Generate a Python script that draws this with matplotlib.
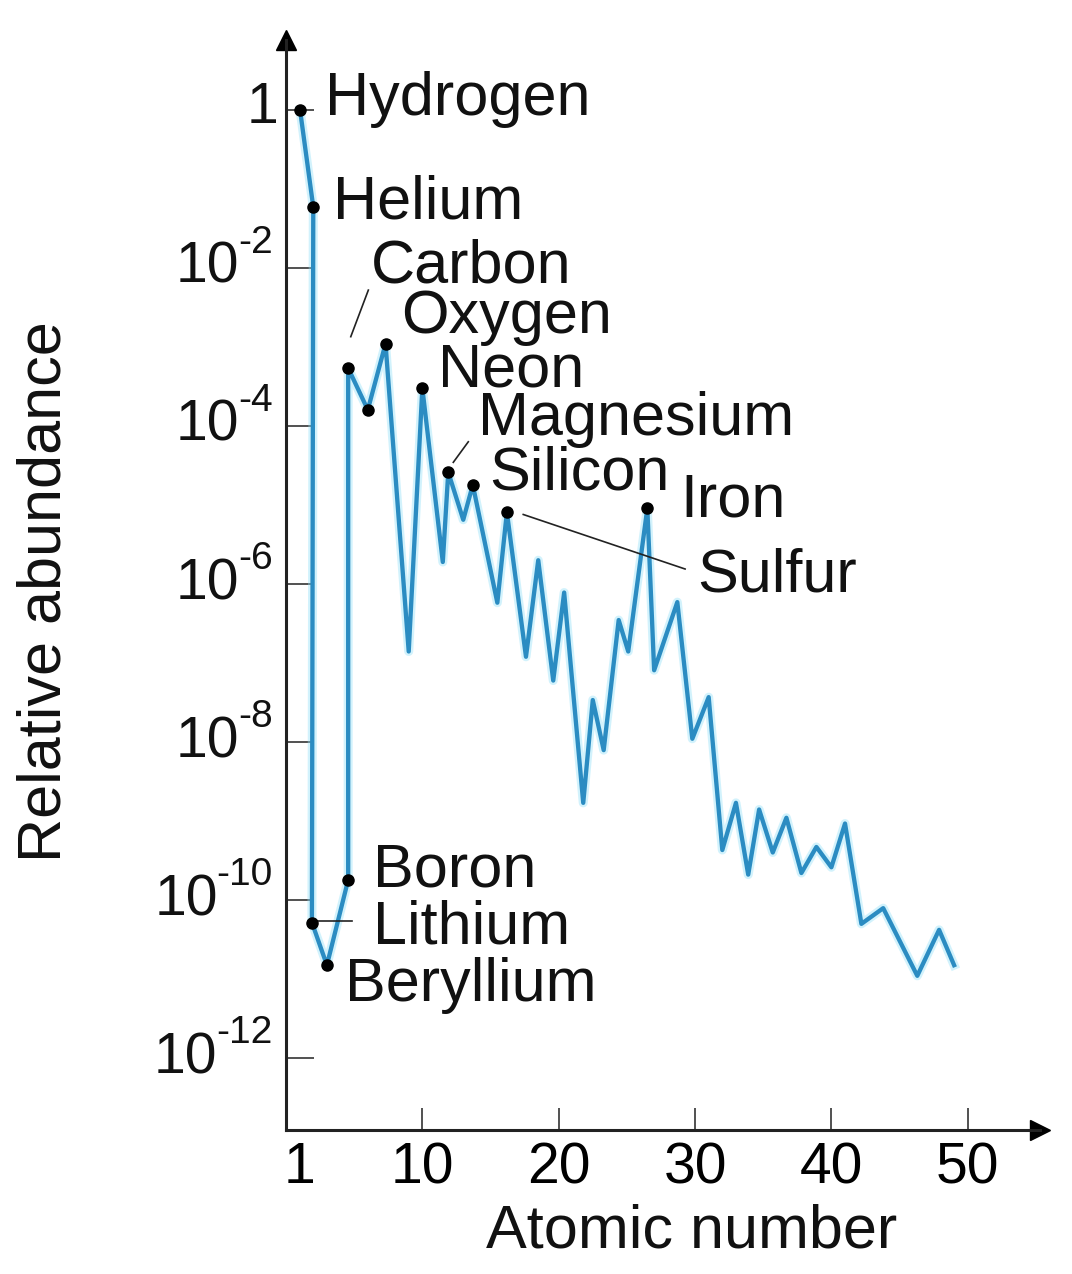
import matplotlib.pyplot as plt

plt.rcParams['font.family'] = ['Liberation Sans', 'DejaVu Sans']

# atomic number (as drawn) and relative abundance
atomic_number = [1.03, 2.0, 1.9, 3.0, 4.56, 4.56, 6.0, 7.3, 9.0, 10.0,
                 11.5, 11.9, 13.0, 13.7, 15.5, 16.2, 17.6, 18.5, 19.6, 20.4,
                 21.8, 22.5, 23.3, 24.4, 25.1, 26.5, 27.0, 28.7, 29.8, 31.0,
                 32.0, 33.0, 33.9, 34.7, 35.7, 36.7, 37.8, 38.9, 40.0, 41.0,
                 42.2, 43.8, 46.3, 47.9, 49.0]
abundance = [1.0, 5.9e-2, 5.2e-11, 1.5e-11, 1.8e-10, 5.4e-4, 1.6e-4, 1.1e-3, 1.4e-7, 3.0e-4,
             1.9e-6, 2.6e-5, 6.5e-6, 1.8e-5, 5.8e-7, 8.1e-6, 1.2e-7, 2.0e-6, 6.0e-8, 7.8e-7,
             1.7e-9, 3.4e-8, 7.9e-9, 3.5e-7, 1.4e-7, 9.1e-6, 8.1e-8, 5.9e-7, 1.1e-8, 3.7e-8,
             4.3e-10, 1.7e-9, 2.1e-10, 1.4e-9, 4.0e-10, 1.1e-9, 2.2e-10, 4.7e-10, 2.6e-10, 9.3e-10,
             5.0e-11, 7.9e-11, 1.1e-11, 4.2e-11, 1.5e-11]

# points marked with a dot
marked = [0, 1, 2, 3, 4, 5, 6, 7, 9, 11, 13, 15, 25]

element_names = ['Hydrogen', 'Helium', 'Carbon', 'Oxygen', 'Neon', 'Magnesium',
                 'Silicon', 'Iron', 'Sulfur', 'Boron', 'Lithium', 'Beryllium']
label_x = [2.85, 3.45, 6.25, 8.45, 11.12, 14.05, 14.93, 28.95, 30.17, 6.36, 6.36, 4.3]
label_y = [10**-0.068, 10**-1.37, 10**-2.19, 10**-2.82, 10**-3.50, 10**-4.11,
           10**-4.80, 10**-5.14, 10**-6.10, 10**-9.83, 10**-10.55, 10**-11.28]

x_ticks = [1, 10, 20, 30, 40, 50]
y_ticks = [1, 1e-2, 1e-4, 1e-6, 1e-8, 1e-10, 1e-12]
y_exponents = ['', '-2', '-4', '-6', '-8', '-10', '-12']

W, H = 1072, 1274
PT = 0.72  # points per pixel at dpi 100
fig = plt.figure(figsize=(W / 100, H / 100), dpi=100)
ax = fig.add_axes([286 / W, 1 - 1130 / H, (1040 - 286) / W, (1130 - 40) / H])

line_col = '#2b8cc2'
ax.plot(atomic_number, abundance, color='#8fe0f8', lw=6.5, alpha=0.4, solid_joinstyle='round')
ax.plot(atomic_number, abundance, color=line_col, lw=3.1, solid_joinstyle='round')
ax.plot([atomic_number[i] for i in marked], [abundance[i] for i in marked],
        'o', color='black', markersize=8, zorder=5)

ax.set_yscale('log')
ax.set_xlim(0, 55.3)
ax.set_ylim(10**-12.91, 10**0.885)

ax.set_xticks(x_ticks)
ax.set_xticklabels([str(t) for t in x_ticks])
ax.set_yticks(y_ticks)
ax.set_yticklabels([])
ax.yaxis.set_minor_locator(plt.NullLocator())
ax.tick_params(axis='y', direction='in', length=20, width=1.2, color='#333333')
ax.tick_params(axis='x', direction='in', length=16, width=1.2, labelsize=41, pad=8, color='#333333')
ax.xaxis.get_major_ticks()[0].tick1line.set_visible(False)

for s in ['top', 'right']:
    ax.spines[s].set_visible(False)
for s in ['left', 'bottom']:
    ax.spines[s].set_linewidth(2.2)
    ax.spines[s].set_color('#222222')

ax.plot(1, 0, '>', color='black', markersize=14, transform=ax.transAxes, clip_on=False)
ax.plot(0, 1, '^', color='black', markersize=14, transform=ax.transAxes, clip_on=False)

# y tick labels: "10" with a small raised exponent
renderer = fig.canvas.get_renderer()
for val, ex in zip(y_ticks, y_exponents):
    if ex == '':
        ax.annotate('1', xy=(0, val), xycoords=('axes fraction', 'data'),
                    xytext=(-8 * PT, -13 * PT), textcoords='offset points',
                    ha='right', va='baseline', fontsize=41, color='#111111')
        continue
    t = ax.annotate(ex, xy=(0, val), xycoords=('axes fraction', 'data'),
                    xytext=(-13 * PT, 15 * PT), textcoords='offset points',
                    ha='right', va='baseline', fontsize=28, color='#111111')
    w = t.get_window_extent(renderer).width
    ax.annotate('10', xy=(0, val), xycoords=('axes fraction', 'data'),
                xytext=((-13 - w + 1) * PT, -15 * PT), textcoords='offset points',
                ha='right', va='baseline', fontsize=41, color='#111111')

for name, lx, ly in zip(element_names, label_x, label_y):
    ax.text(lx, ly, name, fontsize=44, va='baseline', ha='left', color='#111111')

# leader lines
ax.plot([4.75, 6.04], [10**-2.87, 10**-2.28], color='#222222', lw=1.2)
ax.plot([12.27, 13.37], [10**-4.46, 10**-4.20], color='#222222', lw=1.2)
ax.plot([17.4, 29.27], [10**-5.12, 10**-5.81], color='#222222', lw=1.2)
ax.plot([2.38, 4.87], [10**-10.26, 10**-10.26], color='#222222', lw=1.2)

fig.text(45 / W, 1 - 592 / H, 'Relative abundance', rotation=90, fontsize=44,
         ha='center', va='center', color='#111111')
fig.text(692 / W, 1 - 1248 / H, 'Atomic number', fontsize=44,
         ha='center', va='baseline', color='#111111')

fig.savefig('out.png', dpi=100)
